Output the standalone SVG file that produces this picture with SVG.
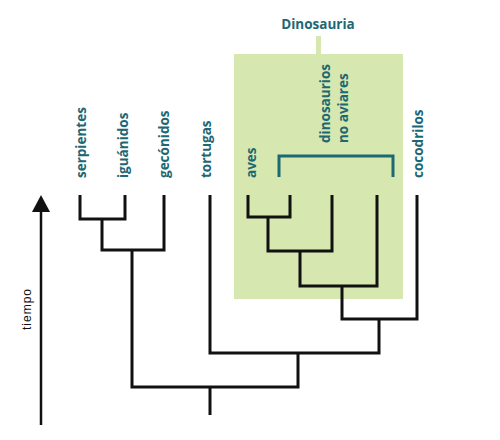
<svg xmlns="http://www.w3.org/2000/svg" width="500" height="440" viewBox="0 0 500 440">
<style>
.lbl{font-family:"Open Sans","Liberation Sans",sans-serif;font-weight:700;font-size:13.5px;fill:#1c6873}
.tree{fill:none;stroke:#111;stroke-width:3;stroke-linejoin:miter;stroke-linecap:butt}
.axis{font-family:"Liberation Sans",Arial,sans-serif;font-size:12px;fill:#111;letter-spacing:1px}
</style>
<rect width="500" height="440" fill="#fff"/>
<g id="dinosauria">
<rect x="316" y="36" width="5" height="18" fill="#d6e8b0"/>
<rect x="234" y="54" width="169" height="245" fill="#d6e8b0"/>
<text class="lbl" x="318" y="28.5" text-anchor="middle">Dinosauria</text>
<path d="M279,177 V156 H393 V177" fill="none" stroke="#1c6873" stroke-width="3"/>
</g>
<g id="labels">
<text class="lbl" transform="translate(86,178) rotate(-90)">serpientes</text>
<text class="lbl" transform="translate(128,178) rotate(-90)">iguánidos</text>
<text class="lbl" transform="translate(169,178) rotate(-90)">gecónidos</text>
<text class="lbl" transform="translate(211,178) rotate(-90)">tortugas</text>
<text class="lbl" transform="translate(256,178) rotate(-90)">aves</text>
<text class="lbl" transform="translate(330,143) rotate(-90)">dinosaurios</text>
<text class="lbl" transform="translate(348,143) rotate(-90)">no aviares</text>
<text class="lbl" transform="translate(423,178) rotate(-90)">cocodrilos</text>
</g>
<g id="connectors" class="tree">
<path d="M80,195 V219 H125 V195"/>
<path d="M102,219 V250 H164 V195"/>
<path d="M132,250 V387 H298 V353"/>
<path d="M210,195 V353 H379 V319"/>
<path d="M342,286 V319 H417 V195"/>
<path d="M300,251 V286 H377 V195"/>
<path d="M268,217 V251 H332 V195"/>
<path d="M248,195 V217 H290 V195"/>
<path d="M210,387 V415"/>
</g>
<g id="time-axis">
<line x1="41" y1="425" x2="41" y2="208" stroke="#111" stroke-width="2.5"/>
<polygon points="41,195 32,212 50,212" fill="#111"/>
<text class="axis" transform="translate(31,330) rotate(-90)">tiempo</text>
</g>
</svg>
